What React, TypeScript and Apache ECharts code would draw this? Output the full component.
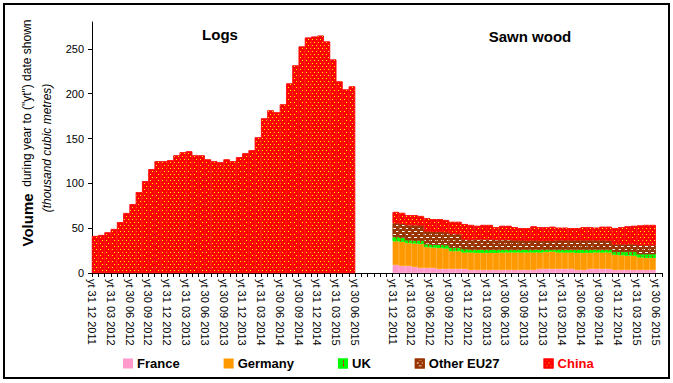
import React, { useEffect, useRef } from "react";
import * as echarts from "echarts";

const FONT = "'Liberation Sans', Arial, sans-serif";

const seriesNames = ["France", "Germany", "UK", "Other EU27", "China"];

const tickLabels = [
  "yt 31 12 2011", "yt 31 03 2012", "yt 30 06 2012", "yt 30 09 2012",
  "yt 31 12 2012", "yt 31 03 2013", "yt 30 06 2013", "yt 30 09 2013",
  "yt 31 12 2013", "yt 31 03 2014", "yt 30 06 2014", "yt 30 09 2014",
  "yt 31 12 2014", "yt 31 03 2015", "yt 30 06 2015",
];

const yTicks = [0, 50, 100, 150, 200, 250];

// Logs: China only
const logsChina = [
  41.2, 42.3, 45.3, 49.0, 56.7, 66.8, 76.8, 90.1, 102.4, 115.7, 124.6, 124.6,
  125.7, 131.2, 134.6, 135.7, 131.2, 131.2, 126.7, 124.6, 123.4, 126.7, 124.6,
  129.1, 133.5, 136.9, 151.3, 172.5, 181.4, 179.2, 188.1, 211.4, 231.5, 252.6,
  262.6, 263.7, 264.8, 258.2, 238.1, 213.6, 204.7, 208.1,
];

// Sawn wood
const sawnFrance = [
  8.9, 7.8, 7.8, 6.7, 5.6, 5.6, 5.6, 4.5, 4.5, 4.5, 4.5, 4.5, 3.3, 3.3, 3.3,
  3.3, 3.3, 3.3, 3.3, 3.3, 3.3, 3.3, 3.3, 4.5, 4.5, 4.5, 4.5, 4.5, 4.5, 3.3,
  3.3, 4.5, 4.5, 4.5, 4.5, 3.3, 3.3, 3.3, 3.3, 3.3, 3.3, 3.3,
];
const sawnGermany = [
  26.6, 27.2, 25.7, 26.3, 26.9, 23.4, 22.9, 23.5, 23.0, 20.0, 20.0, 18.5, 19.7,
  19.2, 19.2, 19.2, 19.2, 19.7, 19.7, 19.7, 19.7, 19.7, 19.7, 18.5, 19.0, 19.5,
  18.5, 18.5, 18.5, 19.2, 19.2, 18.0, 18.5, 18.5, 18.5, 17.2, 16.7, 16.2, 16.2,
  14.2, 13.7, 13.7,
];
const sawnUK = [
  4.5, 4.5, 3, 3, 3.5, 3, 3, 3.5, 3.5, 3.5, 3.5, 3.5, 3, 3.5, 3.5, 3.5, 3.5, 3,
  3, 3, 3, 3, 3, 3, 2.5, 2, 3, 3, 3, 3.5, 3.5, 3.5, 3, 3, 3, 3, 3.5, 4, 4, 3.5,
  4, 4,
];
const sawnOther = [
  15.5, 15.5, 17, 17.5, 17, 14.5, 14.5, 14.5, 14.5, 16, 15.5, 11, 11, 11.5,
  11.5, 11.5, 11, 11, 11, 10.5, 10.5, 10, 10.5, 10, 10, 10, 10.5, 10.5, 10.5,
  10.5, 10.5, 10.5, 10.5, 10.5, 10, 8.5, 8.5, 8.5, 8.5, 10, 10, 10,
];
const sawnChina = [
  12.5, 12, 11, 11, 10.5, 14.5, 14, 14, 13.5, 13, 13.5, 17, 16.5, 15, 16, 16,
  14, 15.5, 15.5, 14.5, 13.5, 14, 15.5, 15, 15, 15.5, 14, 14, 13.5, 13.5, 14.5,
  14.5, 14, 15, 15.5, 18, 19, 20, 20.5, 22, 22.5, 22.5,
];

const GAP = 6; // empty categories between the two panels
const PAD = 1; // empty category at the end

export default function App() {
  const ref = useRef<HTMLDivElement>(null);

  useEffect(() => {
    if (!ref.current) return;
    const chart = echarts.init(ref.current, null, { renderer: "svg" });

    const nLogs = logsChina.length;
    const nSawn = sawnChina.length;
    const nCats = nLogs + GAP + nSawn + PAD;
    const barCats = Array.from({ length: nCats }, (_, i) => "c" + i);
    const sawnStart = nLogs + GAP;

    // boundary label axis (nCats + 1 boundaries)
    const boundaryLabels: string[] = Array.from({ length: nCats + 1 }, () => "");
    tickLabels.forEach((t, k) => {
      boundaryLabels[k * 3] = t;
      boundaryLabels[sawnStart + k * 3] = t;
    });

    const build = (logs: (number | null)[] | null, sawn: number[]) => {
      const arr: (number | null)[] = [];
      for (let i = 0; i < nLogs; i++) arr.push(logs ? logs[i] : null);
      for (let i = 0; i < GAP; i++) arr.push(null);
      for (let i = 0; i < nSawn; i++) arr.push(sawn[i]);
      for (let i = 0; i < PAD; i++) arr.push(null);
      return arr;
    };

    const styles: any[] = [
      { color: "#ff99cc", borderColor: "#ff99cc", borderWidth: 0.6 },
      { color: "#ff9900", borderColor: "#ff9900", borderWidth: 0.6 },
      {
        color: "#00ff00",
        borderColor: "#00ff00",
        borderWidth: 0.6,
        decal: {
          color: "#ff0000",
          symbol: "rect",
          symbolSize: 1,
          symbolKeepAspect: false,
          dashArrayX: [1, 3],
          dashArrayY: [3, 1],
        },
      },
      {
        color: "#993300",
        borderColor: "#993300",
        borderWidth: 0.6,
        decal: {
          color: "#ffffff",
          symbol: "rect",
          symbolSize: 1,
          symbolKeepAspect: false,
          dashArrayX: [[3, 3], [0, 3, 3, 0]],
          dashArrayY: [1, 2],
        },
      },
      {
        color: "#ff0000",
        borderColor: "#ff0000",
        borderWidth: 0.6,
        decal: {
          color: "#ffff00",
          symbol: "rect",
          symbolSize: 1,
          symbolKeepAspect: false,
          dashArrayX: [[1, 3], [0, 2, 1, 1]],
          dashArrayY: [1, 2],
        },
      },
    ];

    const dataSets = [
      build(null, sawnFrance),
      build(null, sawnGermany),
      build(null, sawnUK),
      build(null, sawnOther),
      build(logsChina, sawnChina),
    ];

    const series = seriesNames.map((name, i) => ({
      name,
      type: "bar",
      stack: "total",
      xAxisIndex: 0,
      yAxisIndex: 0,
      barWidth: "100%",
      barCategoryGap: 0,
      itemStyle: styles[i],
      data: dataSets[i],
      emphasis: { disabled: true },
    }));

    chart.setOption({
      animation: false,
      textStyle: { fontFamily: FONT },
      grid: { left: 92, right: 11, top: 22, bottom: 110, containLabel: false },
      legend: {
        left: 123,
        top: 357,
        padding: 0,
        itemGap: 44,
        itemWidth: 8,
        itemHeight: 8,
        icon: "rect",
        textStyle: { fontFamily: FONT, fontSize: 13, fontWeight: "bold", color: "#000" },
        data: seriesNames.map((n) =>
          n === "China" ? { name: n, textStyle: { color: "#ff0000" } } : { name: n }
        ),
      },
      xAxis: [
        {
          type: "category",
          position: "bottom",
          data: barCats,
          boundaryGap: true,
          axisLine: { show: true, lineStyle: { color: "#000", width: 1 } },
          axisTick: { show: true, interval: 0, length: 4, lineStyle: { color: "#000" } },
          axisLabel: { show: false },
          splitLine: { show: false },
        },
        {
          type: "category",
          position: "bottom",
          data: boundaryLabels,
          boundaryGap: false,
          axisLine: { show: false },
          axisTick: { show: false },
          axisLabel: {
            show: true,
            interval: 0,
            rotate: -90,
            margin: 6,
            fontSize: 11,
            color: "#000",
            fontFamily: FONT,
          },
          splitLine: { show: false },
        },
      ],
      yAxis: {
        type: "value",
        min: 0,
        max: 280,
        axisLine: { show: true, lineStyle: { color: "#000", width: 1 } },
        axisTick: { show: true, length: 4, lineStyle: { color: "#000" }, customValues: yTicks },
        axisLabel: { fontSize: 11, color: "#000", margin: 8, fontFamily: FONT, customValues: yTicks },
        splitLine: { show: false },
      },
      graphic: [
        {
          type: "rect",
          shape: { x: 4, y: 4, width: 665, height: 374 },
          style: { fill: "none", stroke: "#000", lineWidth: 2 },
          silent: true,
        },
        {
          type: "text",
          x: 220,
          y: 34,
          style: {
            text: "Logs",
            font: `bold 15px ${FONT}`,
            fill: "#000",
            align: "center",
            verticalAlign: "middle",
          },
        },
        {
          type: "text",
          x: 530,
          y: 36,
          style: {
            text: "Sawn wood",
            font: `bold 15px ${FONT}`,
            fill: "#000",
            align: "center",
            verticalAlign: "middle",
          },
        },
        {
          type: "text",
          x: 27,
          y: 133,
          rotation: Math.PI / 2,
          style: {
            text: '{b|Volume}  {n|during year to ("yt") date shown}',
            align: "center",
            verticalAlign: "middle",
            fill: "#000",
            rich: {
              b: { font: `bold 15px ${FONT}`, fill: "#000" },
              n: { font: `12px ${FONT}`, fill: "#000" },
            },
          },
        },
        {
          type: "text",
          x: 47,
          y: 148,
          rotation: Math.PI / 2,
          style: {
            text: "(thousand cubic metres)",
            font: `italic 12px ${FONT}`,
            fill: "#000",
            align: "center",
            verticalAlign: "middle",
          },
        },
      ],
      series,
    });

    return () => chart.dispose();
  }, []);

  return (
    <div
      ref={ref}
      style={{ position: "absolute", left: 0, top: 0, width: 673, height: 383, background: "#fff" }}
    />
  );
}
